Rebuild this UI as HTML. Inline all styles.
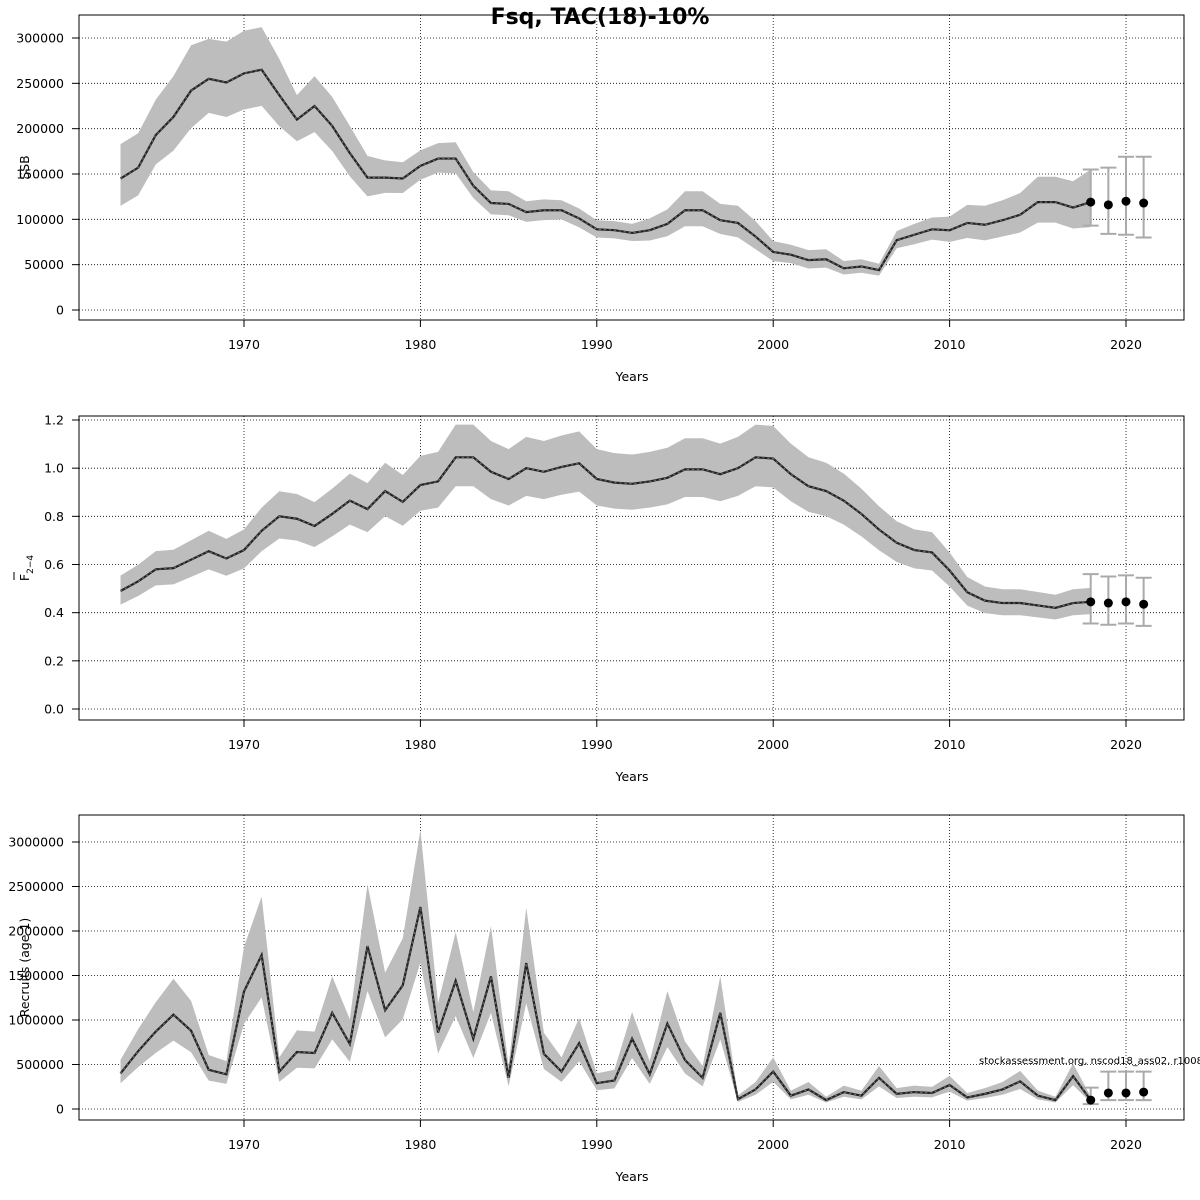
<!DOCTYPE html>
<html><head><meta charset="utf-8"><style>
html,body{margin:0;padding:0;background:#fff}
svg{display:block;font-family:"DejaVu Sans","Liberation Sans",sans-serif}
</style></head><body>
<svg id="s" width="1200" height="1200" viewBox="0 0 1200 1200" xmlns="http://www.w3.org/2000/svg">
<rect width="1200" height="1200" fill="#fff"/>
<text x="600" y="24" font-size="22" font-weight="bold" text-anchor="middle">Fsq, TAC(18)-10%</text>
</svg>
<script>
var S=document.getElementById('s'),NS='http://www.w3.org/2000/svg';
function el(t,a,txt){var e=document.createElementNS(NS,t);for(var k in a)e.setAttribute(k,a[k]);if(txt!=null)e.textContent=txt;S.appendChild(e);return e;}
function X(y){return 244+(y-1970)*17.64;}
var L=79,R=1184;
function panel(o){
 var T=o.top,B=o.bot;
 function Y(v){return o.y0+(v-0)*(o.y1-o.y0)/o.v1;}
 o.ticks.forEach(function(v,i){var y=Y(v);
  el('line',{x1:L,x2:R,y1:y,y2:y,stroke:'#000','stroke-width':0.8,'stroke-dasharray':'1,2'});
  el('line',{x1:72,x2:L,y1:y,y2:y,stroke:'#000','stroke-width':1});
  el('text',{x:64,y:y+4.5,'font-size':12.5,'text-anchor':'end'},o.labels[i]);});
 [1970,1980,1990,2000,2010,2020].forEach(function(yr){var x=X(yr);
  el('line',{x1:x,x2:x,y1:T,y2:B,stroke:'#000','stroke-width':0.8,'stroke-dasharray':'1,2'});
  el('line',{x1:x,x2:x,y1:B,y2:B+7,stroke:'#000','stroke-width':1});
  el('text',{x:x,y:B+29,'font-size':12.5,'text-anchor':'middle'},''+yr);});
 el('text',{x:632,y:B+61,'font-size':12.5,'text-anchor':'middle'},'Years');
 var m=o.mid,up=[],lo=[],r=o.ratio;
 for(var i=0;i<m.length;i++){var u=o.up?o.up[i]:m[i]*r;up.push(u);lo.push(o.up?m[i]*m[i]/u:m[i]/r);}
 var p='';for(i=0;i<m.length;i++)p+=(i?'L':'M')+X(1963+i)+','+Y(up[i]);
 for(i=m.length-1;i>=0;i--)p+='L'+X(1963+i)+','+Y(lo[i]);
 el('path',{d:p+'Z',fill:'#bdbdbd',stroke:'none'});
 var q='';for(i=0;i<m.length;i++)q+=(i?'L':'M')+X(1963+i)+','+Y(m[i]);
 el('path',{d:q,fill:'none',stroke:'#222','stroke-width':2.2});
 el('path',{d:q,fill:'none',stroke:'#777','stroke-width':1,'stroke-dasharray':'2,3'});
 o.proj.forEach(function(pp){var x=X(pp[0]);
  el('line',{x1:x,x2:x,y1:Y(pp[2]),y2:Y(pp[3]),stroke:'#aaa','stroke-width':2});
  el('line',{x1:x-8,x2:x+8,y1:Y(pp[2]),y2:Y(pp[2]),stroke:'#aaa','stroke-width':2});
  el('line',{x1:x-8,x2:x+8,y1:Y(pp[3]),y2:Y(pp[3]),stroke:'#aaa','stroke-width':2});
  el('circle',{cx:x,cy:Y(pp[1]),r:4.5,fill:'#000'});});
 el('rect',{x:L,y:T,width:R-L,height:B-T,fill:'none',stroke:'#000','stroke-width':1});
 var cy=(T+B)/2;
 var t=el('text',{x:0,y:0,'font-size':12.5,'text-anchor':'middle',transform:'translate(29,'+cy+') rotate(-90)'});
 if(o.ylab=='F'){t.innerHTML='F<tspan font-size="9" dy="4">2−4</tspan>';
  el('line',{x1:14,x2:14,y1:cy+12,y2:cy+4,stroke:'#000','stroke-width':1});}
 else t.textContent=o.ylab;
}
var ssb=[145,157,193,213,242,255,251,261,265,237,210,225,203,173,146,146,145,159,167,167,137,118,117,108,110,110,101,89,88,85,88,95,110,110,99,96,81,64,61,55,56,46,48,44,77,83,89,88,96,94,99,105,119,119,113,119].map(function(v){return v*1000});
var ssbU=[183,195,232,258,292,299,296,308,312,277,237,258,235,203,170,165,163,176,184,185,152,132,131,120,122,121,112,99,98,95,101,111,131,131,117,115,98,76,72,66,67,54,56,51,87,95,102,103,116,115,121,129,147,147,142,155].map(function(v){return v*1000});
panel({top:15,bot:320,y0:310,y1:38,v1:300000,ticks:[0,50000,100000,150000,200000,250000,300000],labels:['0','50000','100000','150000','200000','250000','300000'],mid:ssb,up:ssbU,ylab:'SSB',
 proj:[[2018,119000,93000,155000],[2019,116000,84000,157000],[2020,120000,83000,169000],[2021,118000,80000,169000]]});
var F=[0.49,0.53,0.58,0.585,0.62,0.655,0.625,0.66,0.74,0.80,0.79,0.76,0.81,0.865,0.83,0.905,0.86,0.93,0.945,1.045,1.045,0.985,0.955,1.0,0.985,1.005,1.02,0.955,0.94,0.935,0.945,0.96,0.995,0.995,0.975,1.0,1.045,1.04,0.975,0.925,0.905,0.865,0.81,0.745,0.69,0.66,0.65,0.575,0.485,0.45,0.44,0.44,0.43,0.42,0.44,0.445];
panel({top:416,bot:720,y0:709,y1:420,v1:1.2,ticks:[0,0.2,0.4,0.6,0.8,1.0,1.2],labels:['0.0','0.2','0.4','0.6','0.8','1.0','1.2'],mid:F,ratio:1.13,ylab:'F',
 proj:[[2018,0.445,0.355,0.56],[2019,0.44,0.35,0.55],[2020,0.445,0.355,0.555],[2021,0.435,0.345,0.545]]});
var Rc=[400,650,870,1060,880,440,390,1320,1730,420,640,630,1080,730,1830,1110,1390,2270,860,1440,790,1490,350,1640,620,420,740,290,320,790,390,960,550,350,1080,110,220,420,150,220,100,190,150,350,170,190,180,270,130,170,220,310,150,100,370,100].map(function(v){return v*1000});
panel({top:815,bot:1120,y0:1109,y1:842,v1:3000000,ticks:[0,500000,1000000,1500000,2000000,2500000,3000000],labels:['0','500000','1000000','1500000','2000000','2500000','3000000'],mid:Rc,ratio:1.38,ylab:'Recruits (age 1)',
 proj:[[2018,100000,55000,240000],[2019,180000,100000,420000],[2020,180000,100000,420000],[2021,190000,100000,420000]]});
el('text',{x:979,y:1064,'font-size':10},'stockassessment.org, nscod18_ass02, r10088');
</script>
</body></html>
